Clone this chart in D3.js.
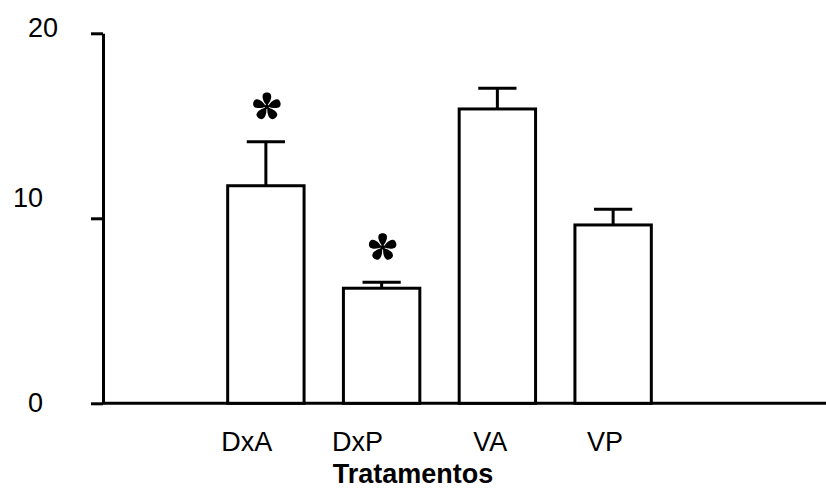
<!DOCTYPE html>
<html><head><meta charset="utf-8">
<script src="https://cdn.jsdelivr.net/npm/d3@7"></script>
<style>body{margin:0;background:#fff}svg{display:block}</style>
</head><body>
<svg id="c" width="826" height="489"></svg>
<script>
const categories = ["DxA", "DxP", "VA", "VP"];
const means = [11.76, 6.22, 15.91, 9.64];
const errors = [2.38, 0.32, 1.12, 0.85];
const significant = [true, true, false, false];
const yTicks = [0, 10, 20];
const xTitle = "Tratamentos";

// label placement styling (the original figure places these by hand)
const tickLabelNudge = {0: [0, 0], 10: [0, -20], 20: [15, -5.5]};
const catLabelNudge = [-19, -24, -7, -8];

const data = categories.map((c, i) => ({c, m: means[i], e: errors[i], s: significant[i], i}));
const svg = d3.select("#c");
const font = "'Liberation Sans', Arial, sans-serif";
const y = d3.scaleLinear().domain([0, 20]).range([403.3, 33.3]);
const x = d3.scaleBand().domain(categories).range([208, 671]).paddingInner(0.34).paddingOuter(0.17);
const axisX = 103;

// y axis
const ya = svg.append("g").attr("transform", `translate(${axisX},0)`)
  .call(d3.axisLeft(y).tickValues(yTicks).tickSize(12).tickSizeOuter(0).tickPadding(48));
ya.selectAll("path,line").attr("stroke", "#000").attr("stroke-width", 3);
ya.selectAll(".tick text").attr("font-family", font).attr("font-size", 27).attr("fill", "#000")
  .attr("transform", d => `translate(${tickLabelNudge[d][0]},${tickLabelNudge[d][1]})`);

// x axis line
svg.append("line").attr("x1", axisX).attr("x2", 826).attr("y1", y(0)).attr("y2", y(0))
  .attr("stroke", "#000").attr("stroke-width", 3);

// bars
svg.selectAll("rect.bar").data(data).join("rect").attr("class", "bar")
  .attr("x", d => x(d.c)).attr("width", x.bandwidth())
  .attr("y", d => y(d.m)).attr("height", d => y(0) - y(d.m))
  .attr("fill", "#fff").attr("stroke", "#000").attr("stroke-width", 3);

// error bars
const cx = d => x(d.c) + x.bandwidth() / 2;
svg.selectAll("line.err").data(data).join("line").attr("class", "err")
  .attr("x1", cx).attr("x2", cx).attr("y1", d => y(d.m)).attr("y2", d => y(d.m + d.e))
  .attr("stroke", "#000").attr("stroke-width", 3);
svg.selectAll("line.cap").data(data).join("line").attr("class", "cap")
  .attr("x1", d => cx(d) - x.bandwidth() / 4).attr("x2", d => cx(d) + x.bandwidth() / 4)
  .attr("y1", d => y(d.m + d.e)).attr("y2", d => y(d.m + d.e))
  .attr("stroke", "#000").attr("stroke-width", 3);

// asterisks
const petal = "M0,-1 C2.8,-4 5.4,-9 3.9,-12.2 C2.6,-14.8 -2.6,-14.8 -3.9,-12.2 C-5.4,-9 -2.8,-4 0,-1Z";
const stars = svg.selectAll("g.star").data(data.filter(d => d.s)).join("g").attr("class", "star")
  .attr("transform", d => `translate(${cx(d) + 1},${y(d.m + d.e) - 35})`);
stars.selectAll("path").data([0, 72, 144, 216, 288]).join("path")
  .attr("d", petal).attr("transform", a => `rotate(${a})`).attr("fill", "#000");
stars.append("circle").attr("r", 2.2).attr("fill", "#000");

// category labels
svg.selectAll("text.cat").data(data).join("text").attr("class", "cat")
  .attr("x", d => cx(d) + catLabelNudge[d.i]).attr("y", 451).attr("text-anchor", "middle")
  .attr("font-family", font).attr("font-size", 27).text(d => d.c);

// title
svg.append("text").attr("x", 413).attr("y", 483).attr("text-anchor", "middle")
  .attr("font-family", font).attr("font-size", 27).attr("font-weight", "bold").text(xTitle);
</script>
</body></html>
